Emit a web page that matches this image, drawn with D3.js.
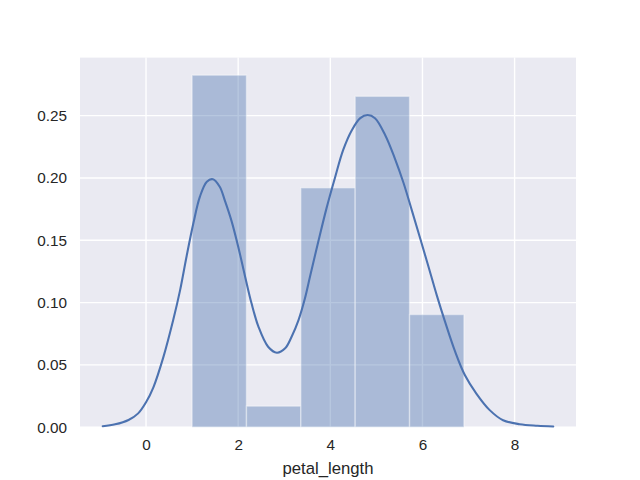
<!DOCTYPE html>
<html>
<head>
<meta charset="utf-8">
<script src="https://cdn.jsdelivr.net/npm/d3@7"></script>
<style>
  html, body { margin: 0; padding: 0; background: #fff; }
  svg { display: block; }
  text { font-family: "Liberation Sans", Arial, sans-serif; fill: #262626; }
</style>
</head>
<body>
<svg id="chart" width="640" height="480"></svg>
<script>
// Histogram bins (petal_length) and density heights
const binEdges = [1.0, 2.18, 3.36, 4.54, 5.72, 6.9];
const binDensity = [0.2825, 0.0169, 0.1921, 0.2655, 0.0904];

// KDE curve
const kdeX = [-0.94, -0.67, -0.38, -0.17, 0.0, 0.16, 0.375, 0.59, 0.74, 0.88, 1.03, 1.17, 1.32, 1.45, 1.60, 1.71, 1.86, 2.00, 2.15, 2.29, 2.44, 2.65, 2.84, 3.02, 3.16, 3.31, 3.45, 3.56, 3.74, 3.92, 4.10, 4.28, 4.47, 4.65, 4.81, 4.97, 5.19, 5.40, 5.59, 5.77, 5.95, 6.13, 6.31, 6.49, 6.71, 6.92, 7.17, 7.46, 7.75, 8.11, 8.5, 8.84];
const kdeY = [0.0008, 0.0023, 0.0058, 0.0111, 0.0200, 0.0320, 0.056, 0.086, 0.110, 0.137, 0.164, 0.185, 0.197, 0.199, 0.193, 0.182, 0.165, 0.145, 0.121, 0.0994, 0.0807, 0.0646, 0.0598, 0.0633, 0.0726, 0.086, 0.1035, 0.121, 0.149, 0.176, 0.200, 0.2225, 0.2385, 0.248, 0.2505, 0.248, 0.2345, 0.2158, 0.196, 0.174, 0.1516, 0.129, 0.106, 0.0847, 0.0606, 0.0419, 0.027, 0.0137, 0.0056, 0.0024, 0.0012, 0.0006];

const xTicks = [0, 2, 4, 6, 8];
const yTicks = [0.00, 0.05, 0.10, 0.15, 0.20, 0.25];
const xLabel = "petal_length";
const xDomain = [-1.433, 9.333];
const yDomain = [0, 0.2966];

(function () {
const pL = 80, pR = 576, pT = 57.6, pB = 427.2;
const svg = d3.select("#chart");

const x = d3.scaleLinear().domain(xDomain).range([pL, pR]);
const y = d3.scaleLinear().domain(yDomain).range([pB, pT]);

// background
svg.append("rect").attr("x", pL).attr("y", pT)
  .attr("width", pR - pL).attr("height", pB - pT)
  .attr("fill", "#EAEAF2");

// grid
const grid = svg.append("g");
grid.selectAll("line.gx").data(xTicks).enter().append("line")
  .attr("x1", d => x(d)).attr("x2", d => x(d))
  .attr("y1", pT).attr("y2", pB)
  .attr("stroke", "#fff").attr("stroke-width", 1.4);
grid.selectAll("line.gy").data(yTicks).enter().append("line")
  .attr("x1", pL).attr("x2", pR)
  .attr("y1", d => y(d)).attr("y2", d => y(d))
  .attr("stroke", "#fff").attr("stroke-width", 1.4);

// histogram bars
const bins = binDensity.map((v, i) => ({x0: binEdges[i], x1: binEdges[i + 1], v}));
svg.append("g").selectAll("rect").data(bins).enter().append("rect")
  .attr("x", d => x(d.x0)).attr("y", d => y(d.v))
  .attr("width", d => x(d.x1) - x(d.x0))
  .attr("height", d => y(0) - y(d.v))
  .attr("fill", "#4C72B0").attr("fill-opacity", 0.4)
  .attr("stroke", "#fff").attr("stroke-opacity", 0.4).attr("stroke-width", 1.4);

// KDE line
const kde = kdeX.map((d, i) => [d, kdeY[i]]);
svg.append("path").datum(kde)
  .attr("d", d3.line().x(d => x(d[0])).y(d => y(d[1])).curve(d3.curveCatmullRom.alpha(0.5)))
  .attr("fill", "none").attr("stroke", "#4C72B0").attr("stroke-width", 2.08)
  .attr("stroke-linejoin", "round").attr("stroke-linecap", "round");

// axes
const xAxis = d3.axisBottom(x).tickValues(xTicks).tickSize(0).tickPadding(12).tickFormat(d3.format("d"));
const gx = svg.append("g").attr("transform", `translate(0,${pB})`).call(xAxis);
gx.select(".domain").remove();
gx.selectAll("text").attr("font-size", "15.3px").attr("fill", "#262626")
  .style("font-family", '"Liberation Sans", Arial, sans-serif');

const yAxis = d3.axisLeft(y).tickValues(yTicks).tickSize(0).tickPadding(13).tickFormat(d3.format(".2f"));
const gy = svg.append("g").attr("transform", `translate(${pL},0)`).call(yAxis);
gy.select(".domain").remove();
gy.selectAll("text").attr("font-size", "15.3px").attr("fill", "#262626")
  .style("font-family", '"Liberation Sans", Arial, sans-serif');

svg.append("text").attr("x", (pL + pR) / 2).attr("y", 474)
  .attr("text-anchor", "middle").attr("font-size", "16.7px").text(xLabel);
})();
</script>
</body>
</html>
